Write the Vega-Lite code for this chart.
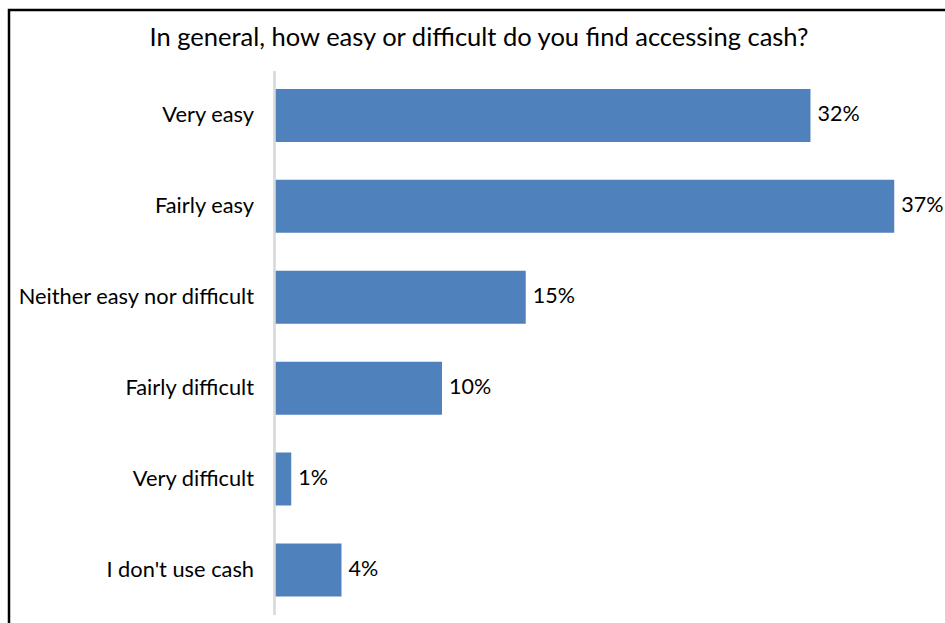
{
  "$schema": "https://vega.github.io/schema/vega-lite/v6.json",
  "autosize": {"type": "none"},
  "padding": {"left": 9, "top": 10, "right": 0, "bottom": 0},
  "width": 940,
  "height": 625,
  "background": "white",
  "config": {
    "view": {"stroke": "#000000", "strokeWidth": 2.5},
    "font": "Lato"
  },
  "title": {
    "text": "In general, how easy or difficult do you find accessing cash?",
    "anchor": "middle",
    "frame": "group",
    "orient": "top",
    "offset": -61,
    "baseline": "alphabetic",
    "font": "Lato",
    "fontSize": 25.5,
    "fontWeight": "normal",
    "color": "#000000"
  },
  "data": {
    "values": [
      {"answer": "Very easy\u00a0", "share": 0.32},
      {"answer": "Fairly easy", "share": 0.37},
      {"answer": "Neither easy nor difficult", "share": 0.15},
      {"answer": "Fairly difficult", "share": 0.10},
      {"answer": "Very difficult", "share": 0.01},
      {"answer": "I don't use cash", "share": 0.04}
    ]
  },
  "encoding": {
    "y": {
      "field": "answer",
      "type": "nominal",
      "sort": null,
      "scale": {"paddingInner": 0.417, "paddingOuter": 0.646, "align": 0.672},
      "axis": {
        "title": null,
        "domain": false,
        "ticks": false,
        "offset": -265.5,
        "labelPadding": 21,
        "labelFont": "Lato",
        "labelFontSize": 21.8,
        "labelColor": "#000000",
        "labelLimit": 400
      }
    }
  },
  "layer": [
    {
      "mark": {"type": "bar", "color": "#4F81BD"},
      "encoding": {
        "x": {
          "field": "share",
          "type": "quantitative",
          "scale": {"domain": [-0.1585, 0.4027], "nice": false, "zero": false},
          "axis": null
        },
        "x2": {"datum": 0}
      }
    },
    {
      "mark": {"type": "text", "align": "left", "baseline": "middle", "dx": 7, "fontSize": 21.5, "font": "Lato", "color": "#000000"},
      "encoding": {
        "x": {"field": "share", "type": "quantitative"},
        "text": {"field": "share", "type": "quantitative", "format": ".0%"}
      }
    },
    {
      "mark": {"type": "rule", "color": "#D9D9D9", "strokeWidth": 1.5},
      "encoding": {
        "x": {"datum": 0, "type": "quantitative"},
        "y": {"datum": "Very easy\u00a0", "type": "nominal", "bandPosition": -0.34},
        "y2": {"datum": "I don't use cash", "bandPosition": 1.35}
      }
    }
  ]
}
